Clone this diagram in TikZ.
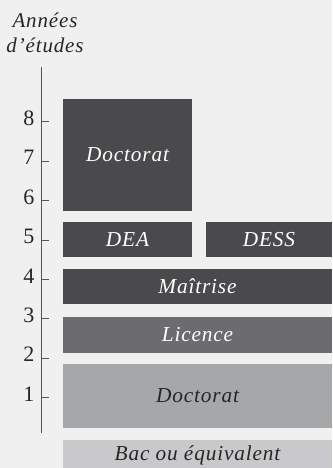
\documentclass[tikz,border=0pt]{standalone}
\usepackage{fontspec}
\setmainfont{Liberation Serif}
\newfontfamily\lblfont[LetterSpace=4]{Liberation Serif}
\definecolor{bgc}{HTML}{F0F0F0}
\definecolor{darkc}{HTML}{4A4A4C}
\definecolor{midc}{HTML}{6C6C6E}
\definecolor{lightc}{HTML}{A6A7A9}
\definecolor{palec}{HTML}{C9C9CB}
\definecolor{axisc}{HTML}{555555}
\begin{document}
\begin{tikzpicture}[x=1pt,y=-1pt,
  lbl/.style={font=\lblfont\itshape\fontsize{21.3}{24}\selectfont},
  num/.style={font=\fontsize{22}{24}\selectfont,text=black!85,anchor=base east,inner sep=0pt},
  hdr/.style={font=\lblfont\itshape\fontsize{21}{24}\selectfont,text=black!85,inner sep=0pt,anchor=base}]
\fill[bgc] (0,0) rectangle (332,468);
\useasboundingbox (0,0) rectangle (332,468);
% header
\node[hdr] (h1) at (45,28) {Années};
\node[hdr] (h2) at (45,53) {d’études};
% axis
\draw[axisc,line width=1pt] (41,67) coordinate (atop) -- (41,433) coordinate (abot);
\foreach \n/\y in {8/121.7,7/161.1,6/200.5,5/239.9,4/279.3,3/318.7,2/358.1,1/397.5}{
  \draw[axisc,line width=0.8pt] (41,\y) -- (49,\y);
  \node[num] (n\n) at (34.5,\y+3.8) {\n};
}
% bars
\fill[darkc] (63,99) rectangle (192,210.7);
\node[lbl,text=white] (doc2) at (127.5,155) {Doctorat};
\fill[darkc] (63,222.3) rectangle (192,257);
\node[lbl,text=white] (dea) at (127.5,239.6) {DEA};
\fill[darkc] (206,222.3) rectangle (332,257);
\node[lbl,text=white] (dess) at (269,239.6) {DESS};
\fill[darkc] (63,269) rectangle (332,304.3);
\node[lbl,text=white] (mai) at (197.5,286.6) {Maîtrise};
\fill[midc] (63,316.7) rectangle (332,352.7);
\node[lbl,text=white] (lic) at (197.5,334.7) {Licence};
\fill[lightc] (63,363.7) rectangle (332,427.7);
\node[lbl,text=black!85] (doc1) at (197.5,395.7) {Doctorat};
\fill[palec] (63,440) rectangle (332,468);
\node[lbl,text=black!85] (bac) at (197.5,455) {Bac ou équivalent};
\end{tikzpicture}
\end{document}
